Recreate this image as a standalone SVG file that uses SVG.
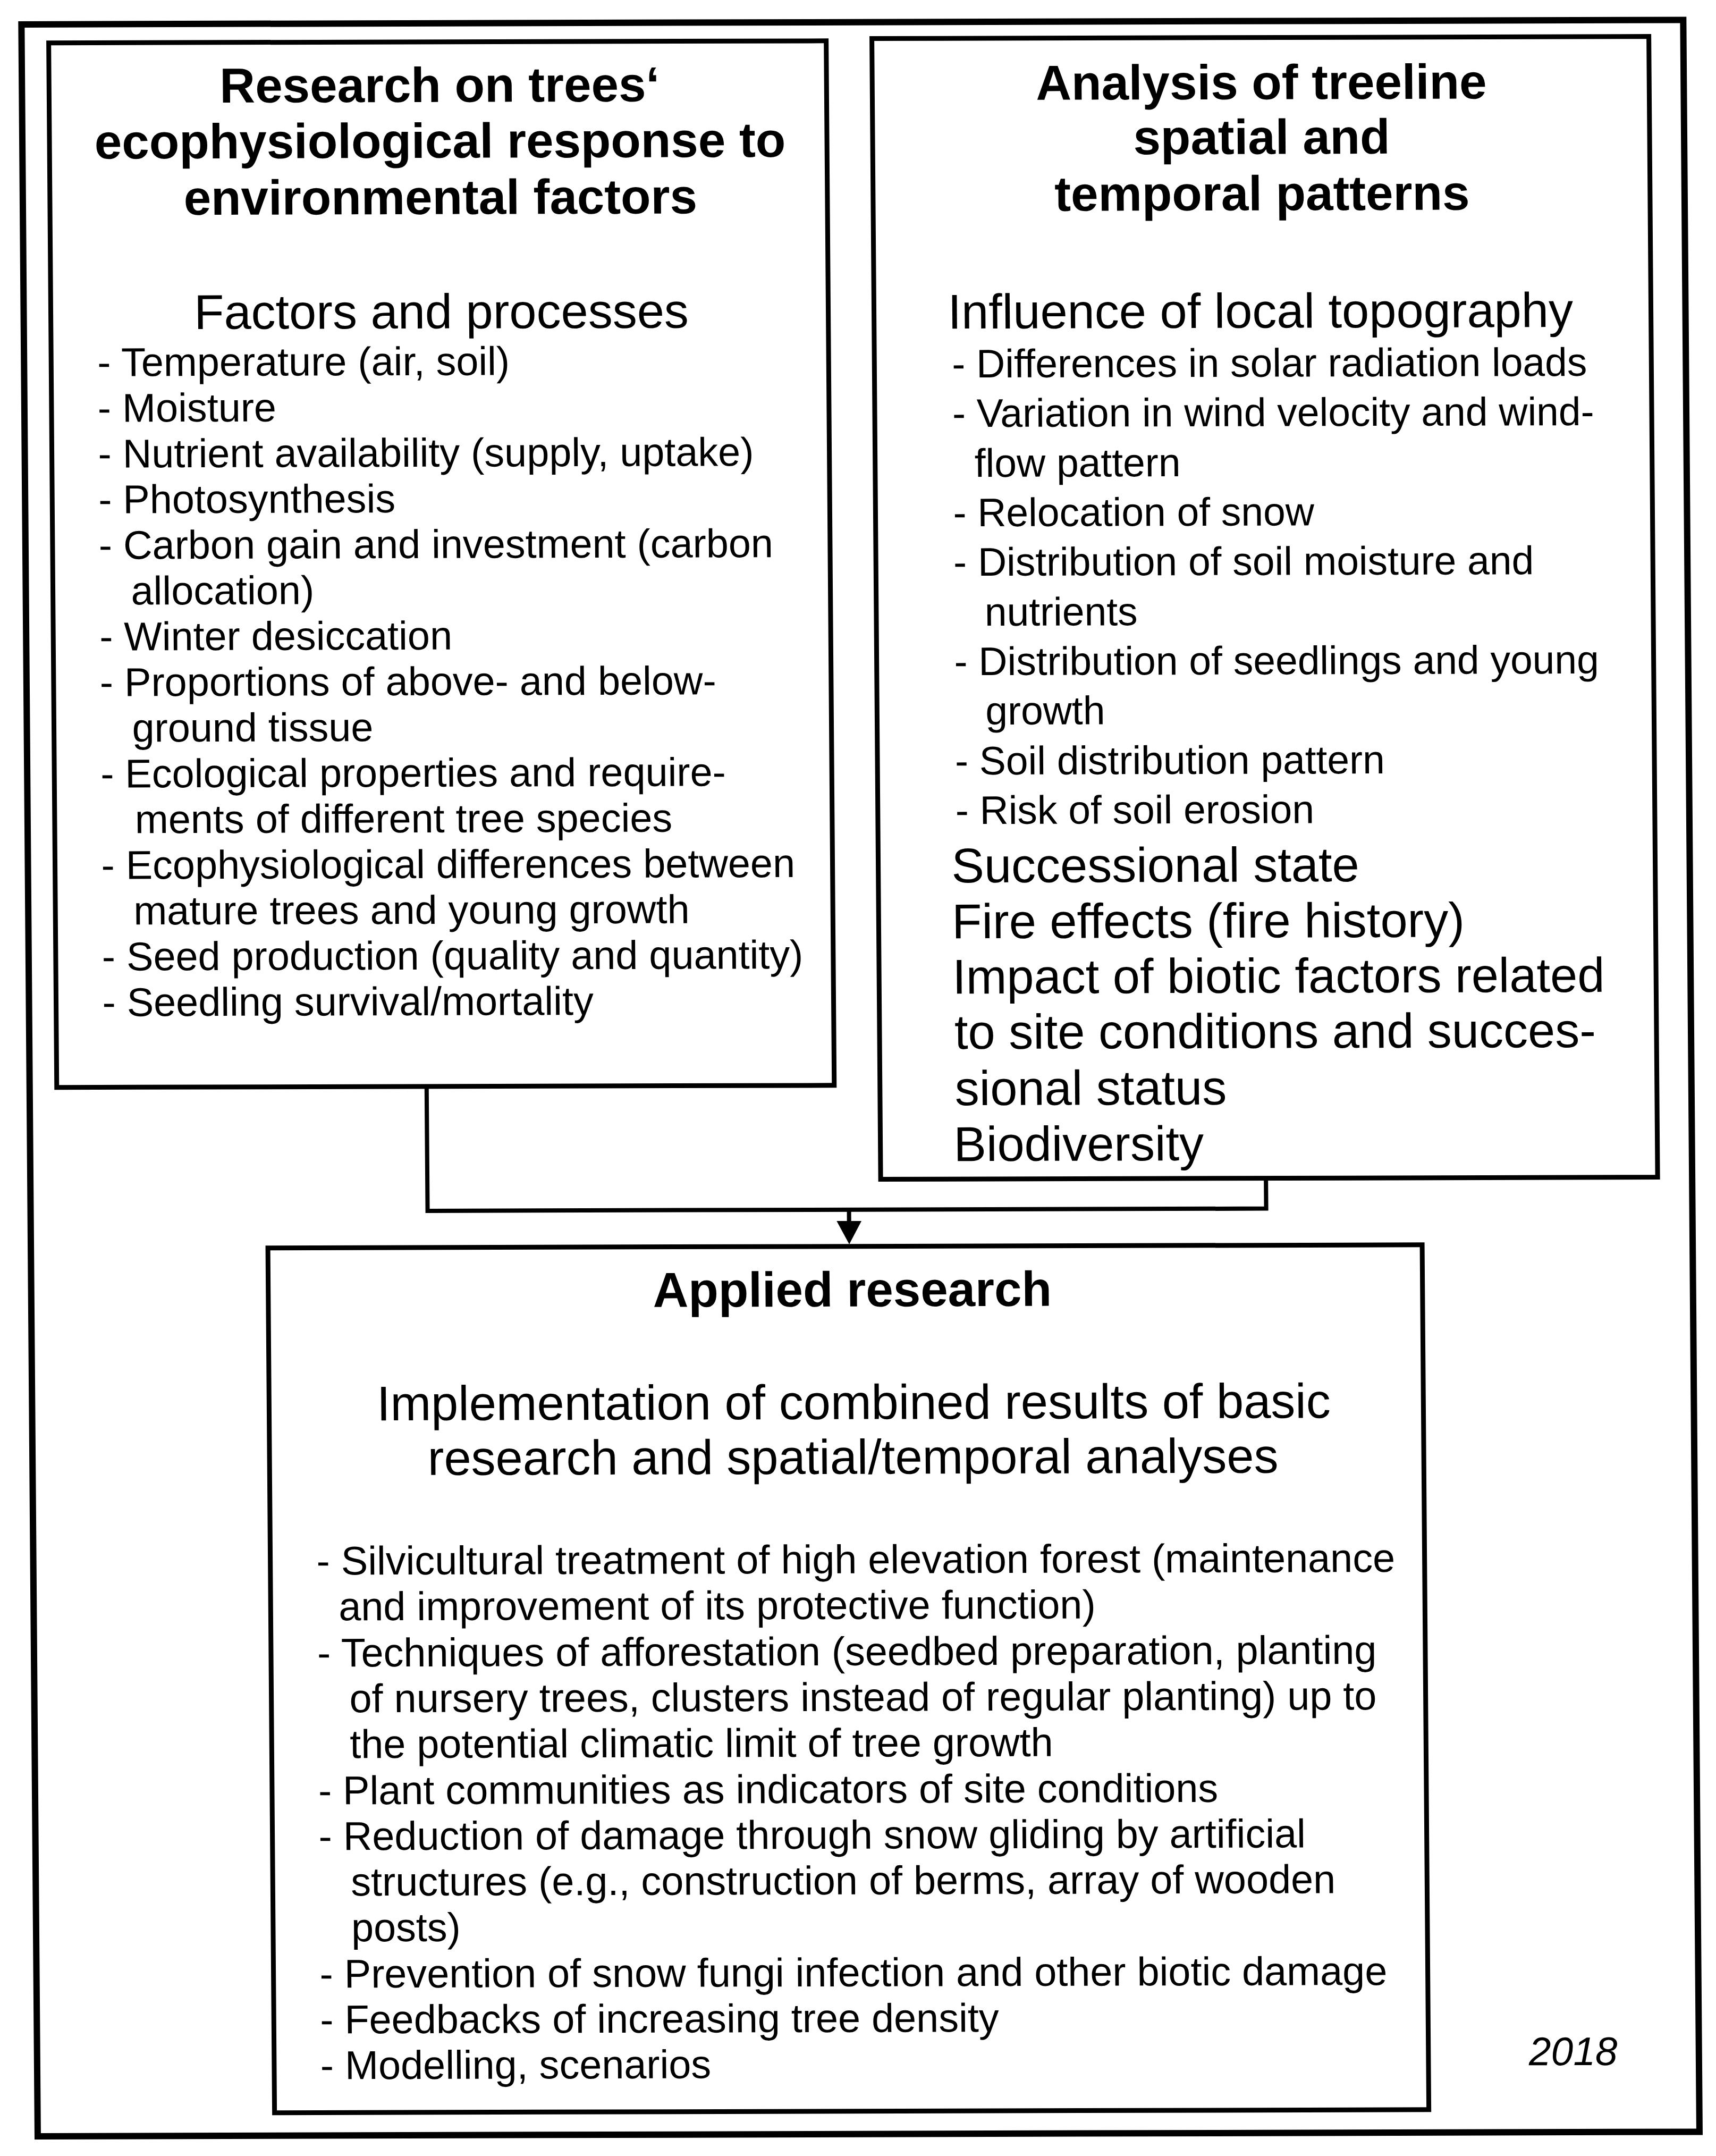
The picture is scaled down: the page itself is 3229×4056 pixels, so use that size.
<svg xmlns="http://www.w3.org/2000/svg" width="3229" height="4056" viewBox="0 0 3229 4056">
<style>
.frame{fill:none;stroke:#000;stroke-width:12}
.box{fill:none;stroke:#000;stroke-width:9}
.conn{fill:none;stroke:#000;stroke-width:8;stroke-linejoin:miter}
text{font-family:"Liberation Sans",Arial,Helvetica,sans-serif;fill:#000}
.t{font-size:92.5px;font-weight:bold;text-anchor:middle}
.h{font-size:92px}
.hc{font-size:92px;text-anchor:middle}
.b{font-size:75.6px}
.br{font-size:75px}
.yr{font-size:75px;font-style:italic}
</style>
<defs>
<marker id="ah" viewBox="0 0 44 47" refX="24" refY="23.5" markerWidth="44" markerHeight="47" markerUnits="userSpaceOnUse" orient="auto">
<path d="M0,0 L44,23.5 L0,47 Z" fill="#000"/>
</marker>
</defs>
<rect x="0" y="0" width="3229" height="4056" fill="#fff"/>
<g transform="matrix(1 -0.0027 0.0077 1 0 0)">
<rect class="frame" x="40" y="46" width="3127" height="3973"/>

<g id="node-ecophysiological-research">
<rect class="box" x="91" y="81" width="1463" height="1965"/>
<text class="t" x="826" y="194">Research on trees‘</text>
<text class="t" x="826" y="299">ecophysiological response to</text>
<text class="t" x="826" y="405">environmental factors</text>
<text class="hc" x="826" y="620">Factors and processes</text>
<text class="b" x="178" y="708">- Temperature (air, soil)</text>
<text class="b" x="178" y="794">- Moisture</text>
<text class="b" x="178" y="880">- Nutrient availability (supply, uptake)</text>
<text class="b" x="178" y="966">- Photosynthesis</text>
<text class="b" x="178" y="1052">- Carbon gain and investment (carbon</text>
<text class="b" x="238" y="1138">allocation)</text>
<text class="b" x="178" y="1224">- Winter desiccation</text>
<text class="b" x="178" y="1310">- Proportions of above- and below-</text>
<text class="b" x="238" y="1396">ground tissue</text>
<text class="b" x="178" y="1482">- Ecological properties and require-</text>
<text class="b" x="242" y="1568">ments of different tree species</text>
<text class="b" x="178" y="1654">- Ecophysiological differences between</text>
<text class="b" x="238" y="1740">mature trees and young growth</text>
<text class="b" x="178" y="1826">- Seed production (quality and quantity)</text>
<text class="b" x="178" y="1912">- Seedling survival/mortality</text>
</g>

<g id="node-treeline-analysis">
<rect class="box" x="1640" y="77" width="1462" height="2146"/>
<text class="t" x="2372" y="193">Analysis of treeline</text>
<text class="t" x="2372" y="296">spatial and</text>
<text class="t" x="2372" y="402">temporal patterns</text>
<text class="h" x="1779" y="623">Influence of local topography</text>
<text class="br" x="1786" y="715">- Differences in solar radiation loads</text>
<text class="br" x="1786" y="808">- Variation in wind velocity and wind-</text>
<text class="br" x="1827" y="902">flow pattern</text>
<text class="br" x="1786" y="995">- Relocation of snow</text>
<text class="br" x="1786" y="1088">- Distribution of soil moisture and</text>
<text class="br" x="1844" y="1182">nutrients</text>
<text class="br" x="1786" y="1275">- Distribution of seedlings and young</text>
<text class="br" x="1844" y="1368">growth</text>
<text class="br" x="1786" y="1462">- Soil distribution pattern</text>
<text class="br" x="1786" y="1555">- Risk of soil erosion</text>
<text class="h" x="1778" y="1665">Successional state</text>
<text class="h" x="1778" y="1770">Fire effects (fire history)</text>
<text class="h" x="1778" y="1874">Impact of biotic factors related</text>
<text class="h" x="1781" y="1978">to site conditions and succes-</text>
<text class="h" x="1781" y="2084">sional status</text>
<text class="h" x="1778" y="2189">Biodiversity</text>
</g>

<g id="node-applied-research">
<rect class="box" x="486" y="2349" width="2172" height="1627"/>
<text class="t" x="1585" y="2462">Applied research</text>
<text class="hc" x="1586" y="2674">Implementation of combined results of basic</text>
<text class="hc" x="1584" y="2777">research and spatial/temporal analyses</text>
<text class="b" x="573" y="2964">- Silvicultural treatment of high elevation forest (maintenance</text>
<text class="b" x="614" y="3050">and improvement of its protective function)</text>
<text class="b" x="573" y="3137">- Techniques of afforestation (seedbed preparation, planting</text>
<text class="b" x="633" y="3223">of nursery trees, clusters instead of regular planting) up to</text>
<text class="b" x="633" y="3309">the potential climatic limit of tree growth</text>
<text class="b" x="573" y="3396">- Plant communities as indicators of site conditions</text>
<text class="b" x="573" y="3482">- Reduction of damage through snow gliding by artificial</text>
<text class="b" x="633" y="3568">structures (e.g., construction of berms, array of wooden</text>
<text class="b" x="633" y="3654">posts)</text>
<text class="b" x="573" y="3741">- Prevention of snow fungi infection and other biotic damage</text>
<text class="b" x="573" y="3827">- Feedbacks of increasing tree density</text>
<text class="b" x="573" y="3913">- Modelling, scenarios</text>
</g>

<g id="connectors">
<path class="conn" d="M787,2046 V2280 H2365 V2223"/>
<path class="conn" d="M1580,2280 V2325" marker-end="url(#ah)"/>
</g>

<text class="yr" x="2847" y="3893">2018</text>
</g>
</svg>
